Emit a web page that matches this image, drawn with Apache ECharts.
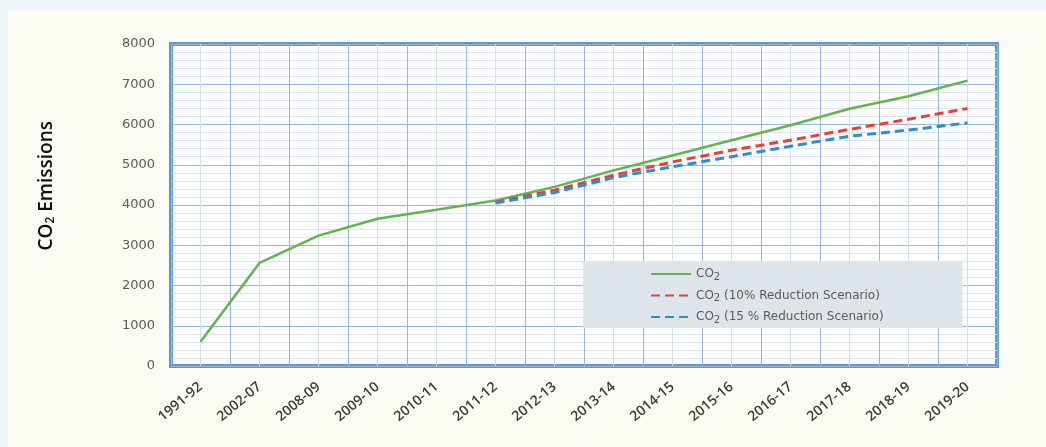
<!DOCTYPE html>
<html>
<head>
<meta charset="utf-8">
<script src="https://cdn.jsdelivr.net/npm/echarts@6/dist/echarts.min.js"></script>
<style>
html,body{margin:0;padding:0;background:#eef6fb;}
#panel{position:absolute;left:8px;top:11px;right:0;bottom:0;background:#fcfbf4;}
#chart{position:absolute;left:0;top:0;width:1046px;height:447px;}
</style>
</head>
<body>
<div id="panel"></div>
<div id="chart"></div>
<script>
var categories = ['1991-92','2002-07','2008-09','2009-10','2010-11','2011-12','2012-13','2013-14','2014-15','2015-16','2016-17','2017-18','2018-19','2019-20'];
var co2 = [600, 2560, 3240, 3660, 3880, 4110, 4450, 4860, 5230, 5610, 5980, 6390, 6700, 7090];
var co2Red10 = ['-', '-', '-', '-', '-', 4070, 4370, 4740, 5070, 5360, 5610, 5880, 6130, 6400];
var co2Blue15 = ['-', '-', '-', '-', '-', 4050, 4310, 4680, 4950, 5200, 5460, 5710, 5860, 6040];
var seriesNames = ['CO2', 'CO2 (10% Reduction Scenario)', 'CO2 (15 % Reduction Scenario)'];
var yTicks = [0, 1000, 2000, 3000, 4000, 5000, 6000, 7000, 8000];

var chart = echarts.init(document.getElementById('chart'));
var option = {
  backgroundColor: 'transparent',
  animation: false,
  grid: {
    left: 171, right: 49, top: 44, bottom: 81,
    show: true, backgroundColor: '#fdfeff',
    borderColor: '#5f97ce', borderWidth: 4
  },
  xAxis: [
    {
      type: 'value', min: 0, max: 28, interval: 1, position: 'bottom',
      axisLine: {show: false}, axisTick: {show: false}, axisLabel: {show: false},
      splitLine: {show: true, lineStyle: {color: '#d3dfeb', width: 1}}
    },
    {
      type: 'category', data: categories, boundaryGap: true, position: 'bottom',
      axisLine: {show: false}, axisTick: {show: false},
      splitLine: {show: true, lineStyle: {color: '#9ab6d4', width: 1}},
      axisLabel: {
        rotate: 40, margin: 19, color: '#3a3a3a', fontSize: 14,
        fontFamily: 'Open Sans', fontWeight: 600, interval: 0
      }
    }
  ],
  yAxis: {
    type: 'value', min: yTicks[0], max: yTicks[yTicks.length - 1], interval: 1000,
    axisLine: {show: false}, axisTick: {show: false},
    axisLabel: {margin: 16, color: '#5a5a5a', fontSize: 13, fontFamily: 'DejaVu Sans',
      formatter: function (v) { return String(v); }},
    splitLine: {show: true, lineStyle: {color: '#9ab6d4', width: 1}},
    minorTick: {show: false, splitNumber: 5},
    minorSplitLine: {show: true, lineStyle: {color: '#dde6ef', width: 1}}
  },
  legend: {
    orient: 'vertical', left: 583, top: 261,
    backgroundColor: '#dde4ea',
    padding: [7, 79, 3, 67],
    itemWidth: 40, itemHeight: 14, itemGap: 7.5,
    data: seriesNames,
    itemStyle: {opacity: 0},
    textStyle: {
      color: '#5a5a5a', fontSize: 12, fontFamily: 'DejaVu Sans',
      rich: {
        a: {fontSize: 12, color: '#5a5a5a', fontFamily: 'DejaVu Sans'},
        s: {fontSize: 10, color: '#5a5a5a', fontFamily: 'DejaVu Sans', padding: [6, 0, 0, 0]}
      }
    },
    formatter: function (name) {
      return '{a|CO}{s|2}{a|' + name.slice(3) + '}';
    }
  },
  graphic: [
    {
      type: 'text', left: 37, top: 121, rotation: Math.PI / 2,
      style: {
        text: '{a|CO}{s|2}{a| Emissions}',
        rich: {
          a: {fontSize: 19, fontWeight: 600, fill: '#111', fontFamily: 'Open Sans'},
          s: {fontSize: 12, fontWeight: 600, fill: '#111', fontFamily: 'Open Sans', padding: [9, 0, 0, 0]}
        }
      }
    }
  ],
  series: [
    {
      name: seriesNames[0], type: 'line', xAxisIndex: 1, data: co2,
      symbol: 'none', lineStyle: {color: '#63b34e', width: 2.5},
      itemStyle: {color: '#63b34e'}
    },
    {
      name: seriesNames[1], type: 'line', xAxisIndex: 1, data: co2Red10,
      symbol: 'none', lineStyle: {color: '#e5403a', width: 3, type: [9, 5]},
      itemStyle: {color: '#e5403a'}
    },
    {
      name: seriesNames[2], type: 'line', xAxisIndex: 1, data: co2Blue15,
      symbol: 'none', lineStyle: {color: '#2a8fd0', width: 3, type: [9, 5]},
      itemStyle: {color: '#2a8fd0'}
    }
  ]
};
chart.setOption(option);
</script>
</body>
</html>
